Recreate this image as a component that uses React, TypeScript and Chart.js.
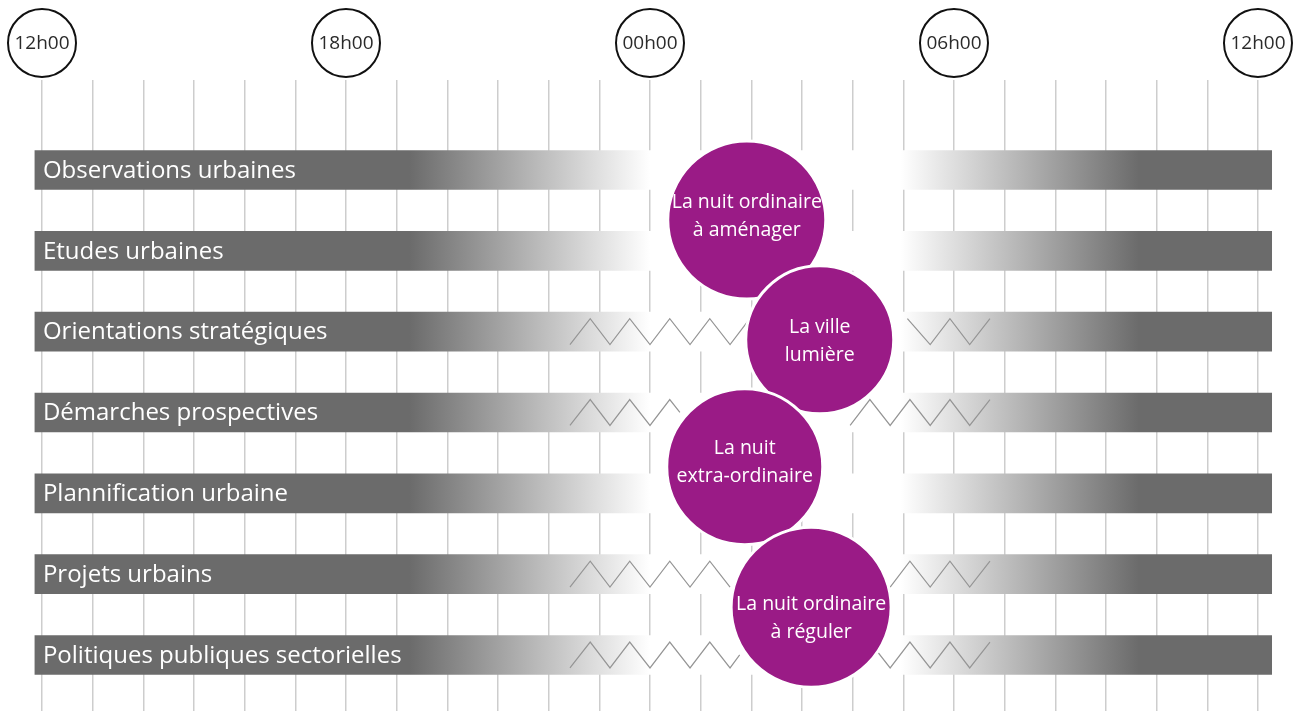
import React, { useEffect, useRef } from "react";
import { Chart, registerables } from "chart.js";

Chart.register(...registerables);

// ---------- data ----------
const ROW_LABELS = [
  "Observations urbaines",
  "Etudes urbaines",
  "Orientations stratégiques",
  "Démarches prospectives",
  "Plannification urbaine",
  "Projets urbains",
  "Politiques publiques sectorielles",
];
const ROW_INDEX = [0, 1, 2, 3, 4, 5, 6];

// hours counted from 12h00 (0) to the next day's 12h00 (24)
const BAR_START = -0.14;
const BAR_END = 24.27;
const HOUR_TICKS = [0, 1, 2, 3, 4, 5, 6, 7, 8, 9, 10, 11, 12, 13, 14, 15, 16, 17, 18, 19, 20, 21, 22, 23, 24];
const HOUR_LABELS = ["12h00", "18h00", "00h00", "06h00", "12h00"];
const HOUR_LABEL_AT = [0, 6, 12, 18, 24];

// gradient of activity along the bars (hours)
const FADE_OUT_START = 7.25;
const FADE_OUT_END = 12.0;
const FADE_IN_START = 16.95;
const FADE_IN_END = 21.65;

const THEME_LABELS = [
  ["La nuit ordinaire", "à aménager"],
  ["La ville", "lumière"],
  ["La nuit", "extra-ordinaire"],
  ["La nuit ordinaire", "à réguler"],
];
const THEME_HOURS = [13.91, 15.35, 13.87, 15.18];
const THEME_ROWS = [0.62, 2.1, 3.67, 5.41];

// zigzag vertices: [hour, side]  (1 = top, -1 = bottom, 0 = middle)
const ZZ_ORIENT_LEFT = [[10.42, -1], [10.82, 1], [11.21, -1], [11.6, 1], [12.0, -1], [12.39, 1], [12.79, -1], [13.18, 1], [13.58, -1], [13.97, 1]];
const ZZ_ORIENT_RIGHT = [[17.08, 1], [17.53, -1], [17.92, 1], [18.31, -1], [18.71, 1]];
const ZZ_DEMARCHES_LEFT = [[10.42, -1], [10.82, 1], [11.21, -1], [11.6, 1], [12.0, -1], [12.39, 1], [12.59, 0]];
const ZZ_DEMARCHES_RIGHT = [[15.95, -1], [16.34, 1], [16.74, -1], [17.13, 1], [17.53, -1], [17.92, 1], [18.31, -1], [18.71, 1]];
const ZZ_PROJETS_LEFT = [[10.42, -1], [10.82, 1], [11.21, -1], [11.6, 1], [12.0, -1], [12.39, 1], [12.79, -1], [13.18, 1], [13.58, -1]];
const ZZ_PROJETS_RIGHT = [[16.74, -1], [17.13, 1], [17.53, -1], [17.92, 1], [18.31, -1], [18.71, 1]];
const ZZ_POLITIQUES_LEFT = [[10.42, -1], [10.82, 1], [11.21, -1], [11.6, 1], [12.0, -1], [12.39, 1], [12.79, -1], [13.18, 1], [13.58, -1], [13.77, 0]];
const ZZ_POLITIQUES_RIGHT = [[15.95, -1], [16.34, 1], [16.74, -1], [17.13, 1], [17.53, -1], [17.92, 1], [18.31, -1], [18.71, 1]];

const ZIGZAGS: { row: number; pts: number[][] }[] = [
  { row: 2, pts: ZZ_ORIENT_LEFT },
  { row: 2, pts: ZZ_ORIENT_RIGHT },
  { row: 3, pts: ZZ_DEMARCHES_LEFT },
  { row: 3, pts: ZZ_DEMARCHES_RIGHT },
  { row: 5, pts: ZZ_PROJETS_LEFT },
  { row: 5, pts: ZZ_PROJETS_RIGHT },
  { row: 6, pts: ZZ_POLITIQUES_LEFT },
  { row: 6, pts: ZZ_POLITIQUES_RIGHT },
];

// ---------- styles ----------
const DARK = "#6b6b6b";
const PURPLE = "#9a1b86";
const GRID = "#cdcdcd";
const ZZ_COLOR = "#959595";
const ZZ_AMP = 0.16;
const THEME_RADII = [79, 74, 78, 80];
const THEME_TEXT_SHIFT = [-4, 2, -4, 11];
const FONT = '"Open Sans", "Noto Sans", sans-serif';

export default function App() {
  const ref = useRef<HTMLCanvasElement | null>(null);

  useEffect(() => {
    if (!ref.current) return;

    const barBg = (c: any) => {
      const chart = c.chart;
      if (!chart.chartArea) return DARK;
      const xs = chart.scales.x;
      const x0 = xs.getPixelForValue(BAR_START);
      const x1 = xs.getPixelForValue(BAR_END);
      const g = chart.ctx.createLinearGradient(x0, 0, x1, 0);
      const s = (h: number) => Math.min(1, Math.max(0, (xs.getPixelForValue(h) - x0) / (x1 - x0)));
      g.addColorStop(0, DARK);
      g.addColorStop(s(FADE_OUT_START), DARK);
      g.addColorStop(s(FADE_OUT_END), "#ffffff");
      g.addColorStop(s(FADE_IN_START), "#ffffff");
      g.addColorStop(s(FADE_IN_END), DARK);
      g.addColorStop(1, DARK);
      return g;
    };

    const textPlugin = {
      id: "texts",
      afterDatasetsDraw(chart: any) {
        const ctx = chart.ctx;
        const xs = chart.scales.x;
        const ys = chart.scales.y;
        ctx.save();
        ctx.fillStyle = "#ffffff";
        ctx.textBaseline = "middle";
        ctx.textAlign = "left";
        ctx.font = `24px ${FONT}`;
        ROW_LABELS.forEach((label, i) => {
          ctx.fillText(label, xs.getPixelForValue(BAR_START) + 8, ys.getPixelForValue(ROW_INDEX[i]) + 1);
        });
        ctx.textAlign = "center";
        ctx.font = `19.5px ${FONT}`;
        THEME_LABELS.forEach((lines, i) => {
          const cx = xs.getPixelForValue(THEME_HOURS[i]);
          const cy = ys.getPixelForValue(THEME_ROWS[i]);
          lines.forEach((t, j) => {
            ctx.fillText(t, cx, cy + (j - (lines.length - 1) / 2) * 28 + THEME_TEXT_SHIFT[i]);
          });
        });
        ctx.restore();
      },
      afterDraw(chart: any) {
        const ctx = chart.ctx;
        const xs = chart.scales.x;
        const cy = chart.chartArea.top - 37;
        ctx.save();
        HOUR_LABELS.forEach((t, i) => {
          const cx = xs.getPixelForValue(HOUR_LABEL_AT[i]);
          ctx.beginPath();
          ctx.arc(cx, cy, 34, 0, Math.PI * 2);
          ctx.fillStyle = "#ffffff";
          ctx.fill();
          ctx.lineWidth = 2;
          ctx.strokeStyle = "#111111";
          ctx.stroke();
          ctx.fillStyle = "#2a2a2a";
          ctx.font = `19px ${FONT}`;
          ctx.textAlign = "center";
          ctx.textBaseline = "middle";
          ctx.fillText(t, cx, cy + 1);
        });
        ctx.restore();
      },
    };

    const datasets: any[] = [
      {
        type: "bar",
        indexAxis: "y",
        data: ROW_INDEX.map((r) => ({ y: r, x: [BAR_START, BAR_END] })),
        backgroundColor: barBg,
        borderWidth: 0,
        barThickness: 39,
        order: 3,
      },
      ...ZIGZAGS.map((z) => ({
        type: "line",
        data: z.pts.map((p) => ({ x: p[0], y: z.row - p[1] * ZZ_AMP })),
        borderColor: ZZ_COLOR,
        borderWidth: 1.2,
        pointRadius: 0,
        tension: 0,
        fill: false,
        order: 2,
      })),
      {
        type: "scatter",
        data: THEME_HOURS.map((h, i) => ({ x: h, y: THEME_ROWS[i] })),
        pointRadius: THEME_RADII,
        pointHoverRadius: THEME_RADII,
        backgroundColor: PURPLE,
        borderColor: "#ffffff",
        borderWidth: 3,
        order: 0,
      },
    ];

    const chart = new Chart(ref.current, {
      type: "bar",
      data: { datasets },
      options: {
        animation: false,
        responsive: false,
        events: [],
        layout: { autoPadding: false, padding: { left: 16.67, right: 10.67, top: 80, bottom: 0 } },
        plugins: { legend: { display: false }, tooltip: { enabled: false } },
        scales: {
          x: {
            type: "linear",
            position: "top",
            offset: false,
            min: -0.5,
            max: 24.5,
            afterBuildTicks: (scale: any) => {
              scale.ticks = HOUR_TICKS.map((v) => ({ value: v }));
            },
            ticks: { display: false },
            grid: { color: GRID, lineWidth: 1.5, drawTicks: false, offset: false },
            border: { display: false },
          },
          y: {
            type: "linear",
            reverse: true,
            offset: false,
            min: -1.113,
            max: 6.693,
            display: false,
            grid: { offset: false },
          },
        },
      } as any,
      plugins: [textPlugin],
    });

    return () => chart.destroy();
  }, []);

  return (
    <div style={{ position: "fixed", left: 0, top: 0, width: 1294, height: 711, background: "#ffffff" }}>
      <canvas ref={ref} width={1294} height={711} style={{ display: "block" }} />
    </div>
  );
}
